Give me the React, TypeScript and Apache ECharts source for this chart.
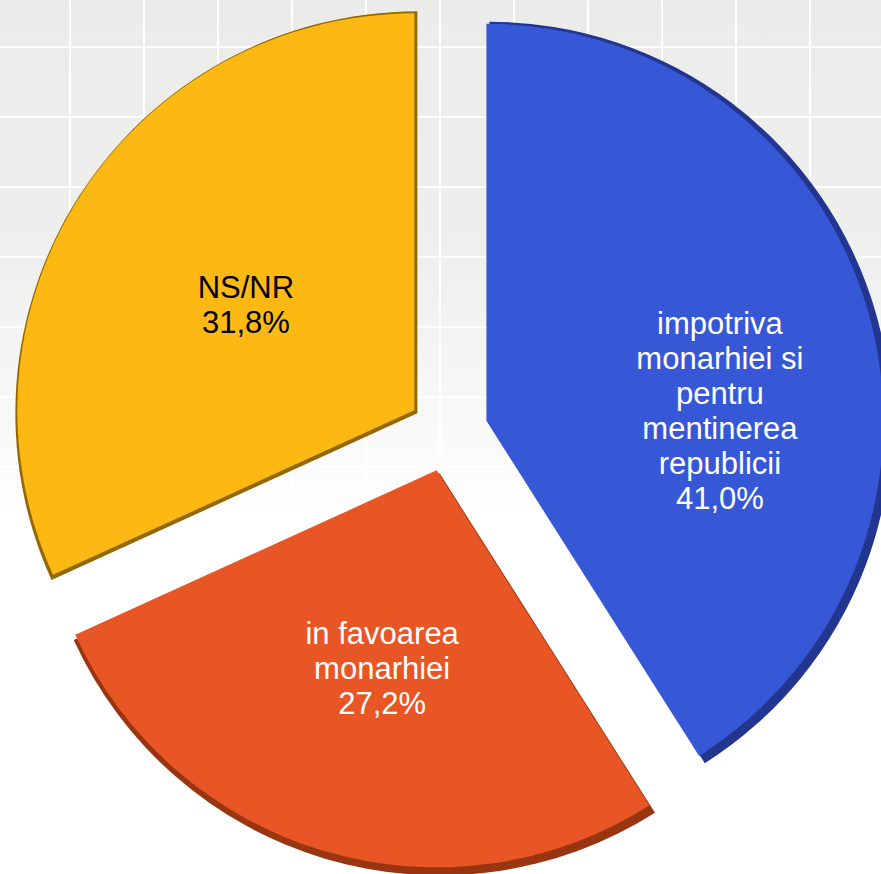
import React, { useEffect, useRef } from "react";
import * as echarts from "echarts";

const categories = [
  "impotriva\nmonarhiei si\npentru\nmentinerea\nrepublicii",
  "in favoarea\nmonarhiei",
  "NS/NR",
];
const values = [41.0, 27.2, 31.8];
const colors = ["#3758D6", "#E95626", "#FDB913"];
const darkColors = ["#22358F", "#9A3512", "#946800"];
const labelColors = ["#ffffff", "#ffffff", "#000000"];
const labelShift = [
  [37, 43],
  [0, 2],
  [-2, 1],
];

const W = 881;
const H = 874;

export default function App() {
  const ref = useRef<HTMLDivElement>(null);
  useEffect(() => {
    document.body.style.margin = "0";
    const chart = echarts.init(ref.current!, null, { renderer: "svg" });
    const gridEls: any[] = [];
    for (let x = -4; x < W; x += 74) {
      gridEls.push({
        type: "line",
        shape: { x1: x, y1: 0, x2: x, y2: H },
        style: { stroke: "#ffffff", lineWidth: 2 },
        silent: true,
      });
    }
    for (let y = 47; y < H; y += 70) {
      gridEls.push({
        type: "line",
        shape: { x1: 0, y1: y, x2: W, y2: y },
        style: { stroke: "#ffffff", lineWidth: 2 },
        silent: true,
      });
    }
    const fmt = (p: any) =>
      p.name + "\n" + p.value.toFixed(1).replace(".", ",") + "%";
    const center = [451, 435];
    const R = 402;
    const off = 40;
    const sh = 3;
    chart.setOption({
      animation: false,
      graphic: [
        {
          type: "rect",
          shape: { x: 0, y: 0, width: W, height: H },
          silent: true,
          z: -10,
          style: {
            fill: new echarts.graphic.LinearGradient(0, 0, 0, 1, [
              { offset: 0, color: "#ebebea" },
              { offset: 0.3, color: "#efefee" },
              { offset: 0.6, color: "#ffffff" },
              { offset: 1, color: "#ffffff" },
            ]),
          },
        },
        ...gridEls.map((e) => ({ ...e, z: -9 })),
      ],
      series: [
        {
          type: "pie",
          center,
          radius: R,
          startAngle: 90,
          clockwise: true,
          silent: true,
          selectedMode: "multiple",
          selectedOffset: off,
          label: { show: false },
          labelLine: { show: false },
          emphasis: { disabled: true },
          data: values.map((v, i) => ({
            value: v,
            name: categories[i],
            selected: true,
            itemStyle: { color: darkColors[i] },
          })),
          z: 2,
        },
        {
          type: "pie",
          center: [center[0] - sh, center[1] - sh],
          radius: R - 5,
          startAngle: 90,
          clockwise: true,
          silent: true,
          selectedMode: "multiple",
          selectedOffset: off,
          emphasis: { disabled: true },
          labelLine: { show: false },
          label: {
            show: true,
            position: "inside",
            formatter: fmt,
            fontFamily: "Liberation Sans, Arial, sans-serif",
            fontSize: 31,
            lineHeight: 35,
            align: "center",
          },
          labelLayout: (p: any) => ({
            dx: labelShift[p.dataIndex][0] + sh,
            dy: labelShift[p.dataIndex][1] + sh,
          }),
          data: values.map((v, i) => ({
            value: v,
            name: categories[i],
            selected: true,
            itemStyle: { color: colors[i] },
            label: { color: labelColors[i] },
          })),
          z: 3,
        },
      ],
    });
    return () => chart.dispose();
  }, []);
  return <div ref={ref} style={{ width: W, height: H }} />;
}
